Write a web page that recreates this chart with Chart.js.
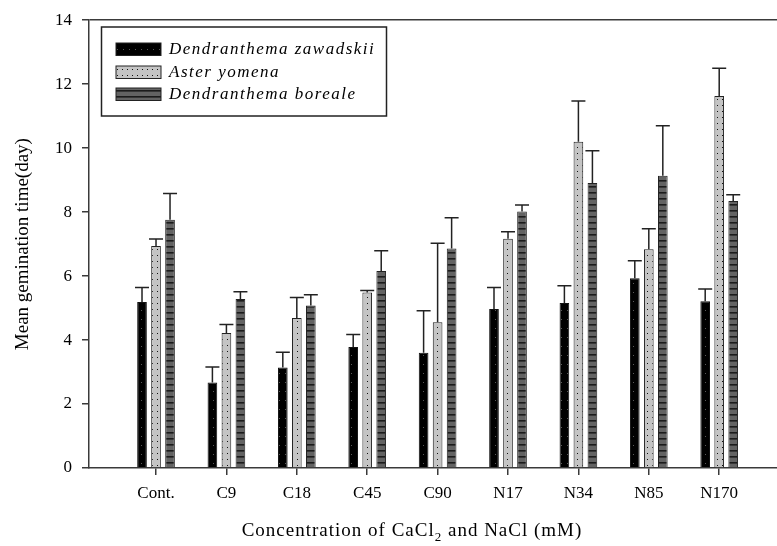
<!DOCTYPE html>
<html>
<head>
<meta charset="utf-8">
<script src="https://cdn.jsdelivr.net/npm/chart.js@4"></script>
<style>
  body { margin: 0; background: #fff; }
</style>
</head>
<body>
<canvas id="germ" width="777" height="546"></canvas>
<script>
// values (days)
const categories = ['Cont.', 'C9', 'C18', 'C45', 'C90', 'N17', 'N34', 'N85', 'N170'];
const zawadskii = [5.19, 2.67, 3.14, 3.78, 3.60, 4.97, 5.16, 5.93, 5.21];
const zawadskiiErr = [0.45, 0.49, 0.48, 0.39, 1.32, 0.67, 0.54, 0.55, 0.39];
const yomena = [6.94, 4.22, 4.69, 5.49, 4.56, 7.17, 10.20, 6.84, 11.63];
const yomenaErr = [0.22, 0.27, 0.64, 0.06, 2.47, 0.22, 1.27, 0.64, 0.87];
const boreale = [7.76, 5.28, 5.08, 6.16, 6.86, 8.02, 8.91, 9.14, 8.35];
const borealeErr = [0.82, 0.23, 0.34, 0.63, 0.96, 0.20, 1.01, 1.56, 0.19];
const yTicks = [0, 2, 4, 6, 8, 10, 12, 14];

const serif = "'Liberation Serif', 'Times New Roman', serif";

function makePattern(kind) {
  const c = document.createElement('canvas');
  const g = c.getContext('2d');
  if (kind === 'black') {
    c.width = 6; c.height = 9;
    g.fillStyle = '#000'; g.fillRect(0, 0, 6, 9);
    g.fillStyle = '#5a5a5a'; g.fillRect(3, 4, 1, 1);
  } else if (kind === 'gray') {
    c.width = 5; c.height = 6;
    g.fillStyle = '#c4c4c4'; g.fillRect(0, 0, 5, 6);
    g.fillStyle = '#111'; g.fillRect(2, 3, 1, 1);
  } else {
    c.width = 6; c.height = 6;
    g.fillStyle = '#636363'; g.fillRect(0, 0, 6, 6);
    g.fillStyle = '#1c1c1c'; g.fillRect(0, 0, 6, 1.6);
  }
  return g.createPattern(c, 'repeat');
}

function toPoints(arr) {
  return arr.map((v, i) => ({ x: i + 1, y: v }));
}

const errors = [zawadskiiErr, yomenaErr, borealeErr];

// upper error bars
const errorBars = {
  id: 'errorBars',
  afterDatasetsDraw(chart) {
    const ctx = chart.ctx;
    const ys = chart.scales.y;
    ctx.save();
    ctx.strokeStyle = '#222';
    ctx.lineWidth = 1.5;
    chart.data.datasets.forEach((ds, di) => {
      const meta = chart.getDatasetMeta(di);
      meta.data.forEach((bar, i) => {
        const top = ys.getPixelForValue(ds.data[i].y + errors[di][i]);
        ctx.beginPath();
        ctx.moveTo(bar.x, bar.y);
        ctx.lineTo(bar.x, top);
        ctx.moveTo(bar.x - 7, top);
        ctx.lineTo(bar.x + 7, top);
        ctx.stroke();
      });
    });
    ctx.restore();
  }
};

// boxed legend inside the plot + x title with subscript
const boxLegend = {
  id: 'boxLegend',
  afterDraw(chart) {
    const ctx = chart.ctx;
    ctx.save();
    ctx.fillStyle = '#fff';
    ctx.fillRect(101.5, 27, 285, 89);
    ctx.strokeStyle = '#222';
    ctx.lineWidth = 1.5;
    ctx.strokeRect(101.5, 27, 285, 89);
    const rows = [43, 66, 88];
    chart.data.datasets.forEach((ds, i) => {
      ctx.fillStyle = ds.backgroundColor;
      ctx.fillRect(116, rows[i], 45, 12.5);
      ctx.lineWidth = 1;
      ctx.strokeStyle = '#222';
      ctx.strokeRect(116, rows[i], 45, 12.5);
      ctx.fillStyle = '#000';
      ctx.font = 'italic 17px ' + serif;
      ctx.letterSpacing = '1.5px';
      ctx.textBaseline = 'middle';
      ctx.fillText(ds.label, 169, rows[i] + 6.5);
    });

    // x axis title
    ctx.letterSpacing = '1px';
    ctx.fillStyle = '#000';
    ctx.textBaseline = 'alphabetic';
    const main = '19px ' + serif;
    const sub = '13px ' + serif;
    const parts = [['Concentration of CaCl', main, 0], ['2', sub, 5], [' and NaCl (mM)', main, 0]];
    let w = 0;
    parts.forEach(p => { ctx.font = p[1]; w += ctx.measureText(p[0]).width; });
    let x = 412 - w / 2;
    parts.forEach(p => {
      ctx.font = p[1];
      ctx.fillText(p[0], x, 536 + p[2]);
      x += ctx.measureText(p[0]).width;
    });
    ctx.restore();
  }
};

const axisColor = '#3a3a3a';

new Chart(document.getElementById('germ').getContext('2d'), {
  type: 'bar',
  data: {
    datasets: [
      { label: 'Dendranthema zawadskii', data: toPoints(zawadskii), backgroundColor: makePattern('black'), borderColor: '#111', borderWidth: 1 },
      { label: 'Aster yomena', data: toPoints(yomena), backgroundColor: makePattern('gray'), borderColor: '#222', borderWidth: 1 },
      { label: 'Dendranthema boreale', data: toPoints(boreale), backgroundColor: makePattern('dark'), borderColor: '#222', borderWidth: 1 }
    ]
  },
  options: {
    responsive: false,
    devicePixelRatio: 1,
    animation: false,
    categoryPercentage: 0.597,
    barPercentage: 0.69,
    layout: { padding: { top: 17, right: 0, left: 0, bottom: 0 } },
    plugins: { legend: { display: false }, tooltip: { enabled: false } },
    scales: {
      x: {
        type: 'linear',
        offset: false,
        min: 0.048,
        max: 9.821,
        afterBuildTicks: s => { s.ticks = categories.map((c, i) => ({ value: i + 1 })); },
        afterFit: s => { s.height = 78; },
        grid: { offset: false, drawOnChartArea: false, drawTicks: true, tickLength: 7, tickColor: axisColor, lineWidth: 1.5 },
        border: { display: true, color: axisColor, width: 1.5 },
        ticks: {
          padding: 8,
          color: '#000',
          font: { family: serif, size: 17 },
          callback: v => categories[v - 1]
        }
      },
      y: {
        min: 0,
        max: 14,
        afterBuildTicks: s => { s.ticks = yTicks.map(v => ({ value: v })); },
        afterFit: s => { s.width = 89; },
        grid: {
          color: c => (c.tick && c.tick.value === 14) ? axisColor : 'rgba(0,0,0,0)',
          lineWidth: 1.5,
          tickLength: 7,
          tickColor: axisColor
        },
        border: { display: true, color: axisColor, width: 1.5 },
        ticks: { padding: 10, color: '#000', font: { family: serif, size: 17 } },
        title: {
          display: true,
          text: 'Mean gemination time(day)',
          color: '#000',
          font: { family: serif, size: 19 },
          padding: { top: 12, bottom: 0 }
        }
      }
    }
  },
  plugins: [errorBars, boxLegend]
});
</script>
</body>
</html>
